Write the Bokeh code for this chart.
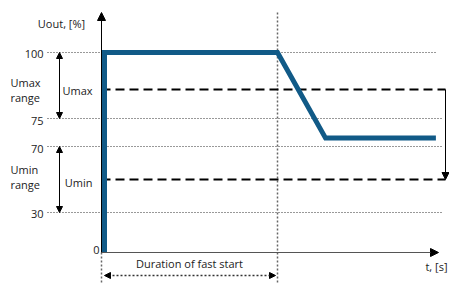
import numpy as np
from bokeh.plotting import figure
from bokeh.models import Range1d, Arrow, NormalHead, ColumnDataSource
from bokeh.embed import file_html
from bokeh.resources import INLINE
from bokeh.core.properties import value

# ---------------- data ----------------
level_values = [0, 30, 70, 75, 100]
level_labels = ["0", "30", "70", "75", "100"]
umax_level = 86
umin_level = 50
umax_range = [75, 100]
umin_range = [30, 70]
curve_t = [0.17, 0.17, 10.0, 12.73, 19.0]
curve_u = [0, 100, 100, 71.5, 71.5]
fast_start_end = 10.0

# schematic (non-linear) vertical scale of the diagram
scale_levels = [0, 30, 70, 75, 100]
scale_pos = [0, 40, 106, 134, 200]


def ypos(v):
    return np.interp(v, scale_levels, scale_pos)


# layout helpers (reference-pixel -> plot coordinates, for annotations only)
def tx(px):
    return (px - 101) / 17.6


def ty(py):
    return 252 - py


FONT = value("Open Sans")
FS = "11px"
TXT = "#222222"
BLUE = "#115a87"

W, H = 449, 283
p = figure(width=W, height=H, output_backend="svg", toolbar_location=None,
           x_axis_type=None, y_axis_type=None, min_border=0,
           x_range=Range1d(tx(0), tx(W)), y_range=Range1d(ty(H), ty(0)))
p.outline_line_color = None
p.grid.visible = False
p.background_fill_color = "white"
p.border_fill_color = "white"

# dotted reference levels (30, 70, 75, 100)
for v in level_values[1:]:
    x_end = tx(436) if v == 100 else tx(443)
    p.line([tx(47), x_end], [ypos(v), ypos(v)], line_color="#333333",
           line_width=1, line_dash="1 2")

# vertical dotted lines
p.line([0, 0], [ty(252), ty(283)], line_color="#666666", line_width=1.5, line_dash="2 2")
p.line([fast_start_end, fast_start_end], [ty(12), ty(283)], line_color="#666666",
       line_width=1.5, line_dash="2 2")

# dashed Umax / Umin
for v in (umax_level, umin_level):
    p.line([0, tx(445)], [ypos(v), ypos(v)], line_color="black", line_width=2,
           line_dash="9 5")

# right arrow from Umax down to Umin
p.add_layout(Arrow(x_start=tx(445), y_start=ypos(umax_level), x_end=tx(445),
                   y_end=ypos(umin_level), line_color="black", line_width=1,
                   end=NormalHead(size=7, fill_color="black", line_color="black")))

# axes
p.add_layout(Arrow(x_start=0, y_start=ypos(0), x_end=tx(438), y_end=ypos(0),
                   line_color="#555555", line_width=1.2,
                   end=NormalHead(size=8, fill_color="black", line_color="black")))
p.add_layout(Arrow(x_start=tx(101), y_start=ypos(0), x_end=tx(101), y_end=ty(12),
                   line_color="black", line_width=1,
                   end=NormalHead(size=8, fill_color="black", line_color="black")))

# range double arrows
for lo, hi in (umax_range, umin_range):
    p.add_layout(Arrow(x_start=tx(59), y_start=ypos(hi), x_end=tx(59), y_end=ypos(lo),
                       line_color="black", line_width=1,
                       start=NormalHead(size=6, fill_color="black", line_color="black"),
                       end=NormalHead(size=6, fill_color="black", line_color="black")))

# duration of fast start arrow
p.add_layout(Arrow(x_start=tx(104), y_start=ty(275), x_end=tx(275), y_end=ty(275),
                   line_color="#333333", line_width=1.3, line_dash="2 2",
                   start=NormalHead(size=6, fill_color="black", line_color="black"),
                   end=NormalHead(size=6, fill_color="black", line_color="black")))

# the output curve
p.line(curve_t, [ypos(u) for u in curve_u], line_color=BLUE, line_width=5,
       line_join="miter", line_cap="butt")

# tick labels
tick_src = ColumnDataSource(dict(
    x=[tx(99)] + [tx(43)] * 4,
    y=[ypos(v) for v in level_values],
    t=level_labels,
    off=[-3, 1, 2, 2, 1],
))
p.text(x="x", y="y", text="t", y_offset="off", source=tick_src, text_font=FONT,
       text_font_size=FS, text_align="right", text_baseline="middle", text_color=TXT)


def label(x, y, s, align="left"):
    p.text(x=[x], y=[y], text=[s], text_font=FONT, text_font_size=FS,
           text_align=align, text_baseline="middle", text_color=TXT)


label(tx(61), ty(23), "Uout, [%]", "center")
label(tx(10), ty(82), "Umax")
label(tx(10), ty(97), "range")
label(tx(92), ty(90), "Umax", "right")
label(tx(10), ty(169), "Umin")
label(tx(10), ty(184), "range")
label(tx(92), ty(182), "Umin", "right")
label(tx(189), ty(263), "Duration of fast start", "center")
label(tx(447), ty(266), "t, [s]", "right")

open("out.html", "w").write(file_html(p, INLINE))
